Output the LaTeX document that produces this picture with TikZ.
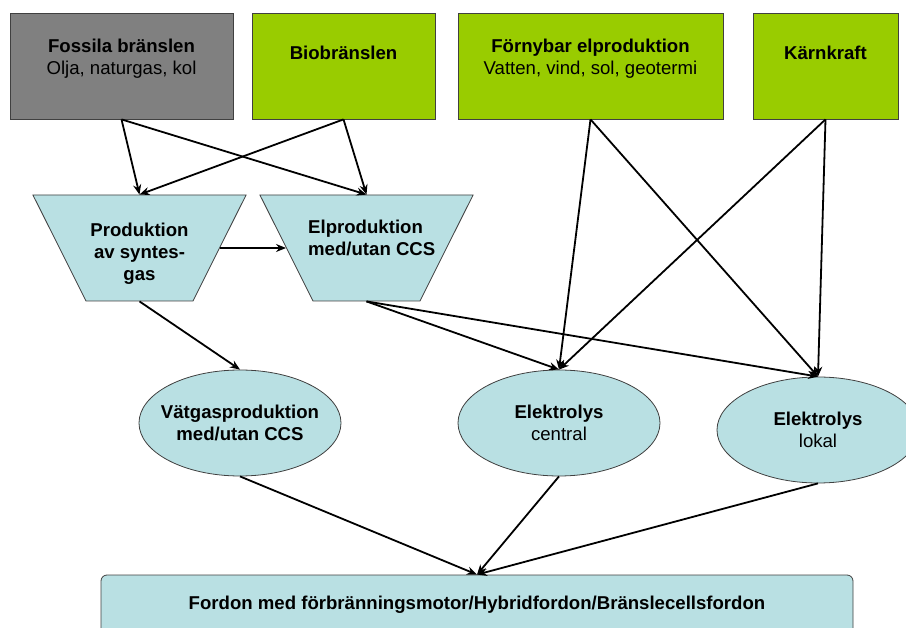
\documentclass[tikz,border=0pt]{standalone}
\usepackage{fontspec}
\setmainfont{Liberation Sans}
\usetikzlibrary{positioning, arrows.meta, shapes.geometric}
\definecolor{fossilgray}{RGB}{128,128,128}
\definecolor{biogreen}{RGB}{153,204,0}
\definecolor{processblue}{RGB}{185,224,227}
\tikzset{
	font = \fontsize{18.6}{22}\selectfont,
	>={Stealth[length=10pt, width=8pt]},
	source/.style={
		draw=black!75,
		line width=.8pt,
		inner sep=0pt,
		minimum height=106pt
	},
	process/.style={
		draw=black!75,
		fill=processblue,
		line width=.8pt,
		trapezium,
		shape border rotate=180,
		trapezium left angle=63.4,
		trapezium right angle=63.4,
		text width=107pt,
		text height=53pt,
		text depth=53pt,
		inner sep=0pt
	},
	step ellipse/.style={
		draw=black!75,
		fill=processblue,
		line width=.8pt,
		ellipse,
		minimum width=202pt,
		minimum height=106pt,
		inner sep=0pt
	},
	caption/.style={
		inner sep=0pt,
		align=center
	},
	flow/.style={
		->,
		line width=1.8pt
	}
}

\begin{document}
\begin{tikzpicture}[x=1pt, y=-1pt]
\useasboundingbox (0,0) rectangle (906,628);

% energikallor
\node[source, fill=fossilgray, minimum width=223pt] (fossil) at (121.5,66) {};
\node[source, fill=biogreen, minimum width=183pt] (bio) at (343.5,66) {};
\node[source, fill=biogreen, minimum width=265pt] (renew) at (590.5,66) {};
\node[source, fill=biogreen, minimum width=145pt] (nuclear) at (825.5,66) {};

\node[caption, below=26pt of fossil.north] (fossil text) {\textbf{Fossila bränslen}\\Olja, naturgas, kol};
\node[caption, below=33pt of bio.north] (bio text) {\textbf{Biobränslen}};
\node[caption, below=26pt of renew.north] (renew text) {\textbf{Förnybar elproduktion}\\Vatten, vind, sol, geotermi};
\node[caption, below=33pt of nuclear.north] (nuclear text) {\textbf{Kärnkraft}};

% omvandling
\node[process] (syngas) at (139.5,248) {};
\node[process] (elprod) at (366.5,248) {};
\node[caption, below=28pt of syngas.north] (syngas text) {\textbf{Produktion}\\\textbf{av syntes-}\\\textbf{gas}};
\node[caption, align=left, anchor=north west] (elprod text) at (308,220) {\textbf{Elproduktion}\\\textbf{med/utan CCS}};

\node[step ellipse] (hydrogen) at (240,423) {};
\node[step ellipse] (central) at (559,423) {};
\node[step ellipse] (local) at (818,430) {};
\node[caption] (hydrogen text) at (hydrogen) {\textbf{Vätgasproduktion}\\\textbf{med/utan CCS}};
\node[caption] (central text) at (central) {\textbf{Elektrolys}\\central};
\node[caption] (local text) at (local) {\textbf{Elektrolys}\\lokal};

\node[draw=black!75, fill=processblue, line width=.8pt, rounded corners=6pt,
	minimum width=752pt, minimum height=60pt, inner sep=0pt] (vehicle) at (477,605)
	{\textbf{Fordon med förbränningsmotor/Hybridfordon/Bränslecellsfordon}};

\draw[flow] (fossil.south) -- (syngas.north);
\draw[flow] (fossil.south) -- (elprod.north);
\draw[flow] (bio.south) -- (syngas.north);
\draw[flow] (bio.south) -- (elprod.north);
\draw[flow] (syngas.east) -- (elprod.west);

\draw[flow] (renew.south) -- (central.north);
\draw[flow] (renew.south) -- (local.north);
\draw[flow] (nuclear.south) -- (central.north);
\draw[flow] (nuclear.south) -- (local.north);
\draw[flow] (elprod.south) -- (central.north);
\draw[flow] (elprod.south) -- (local.north);
\draw[flow] (syngas.south) -- (hydrogen.north);

\draw[flow] (hydrogen.south) -- (vehicle.north);
\draw[flow] (central.south) -- (vehicle.north);
\draw[flow] (local.south) -- (vehicle.north);
\end{tikzpicture}
\end{document}
